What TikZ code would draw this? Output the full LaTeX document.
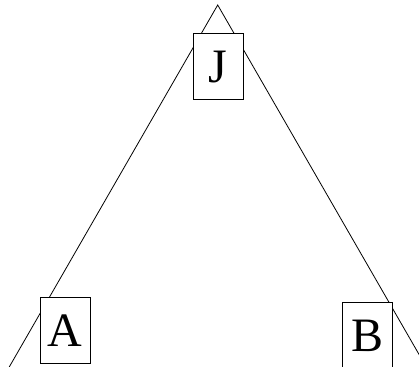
\documentclass[tikz,border=0pt]{standalone}
\usepackage{fontspec}
\setmainfont{Liberation Serif}
\usetikzlibrary{positioning}

\begin{document}
\begin{tikzpicture}[x=1pt, y=-1pt, line width=0.8pt,
          letterbox/.style={draw, fill=white, inner sep=0pt, minimum width=50pt, minimum height=66pt, font=\fontsize{48}{48}\selectfont}]
        \clip (0,0) rectangle (419,366);
        \coordinate (apex) at (217.7,5);
        \coordinate (lend) at (7.5,370);
        \coordinate (rend) at (428,370);
        \draw (lend) -- (apex) -- (rend);
        \node[letterbox] (j) at (218.3,66.7) {J};
        \node[letterbox] (a) at (65.3,330.5) {A};
        \node[letterbox] (b) at (367.7,335.5) {B};
      \end{tikzpicture}
\end{document}
